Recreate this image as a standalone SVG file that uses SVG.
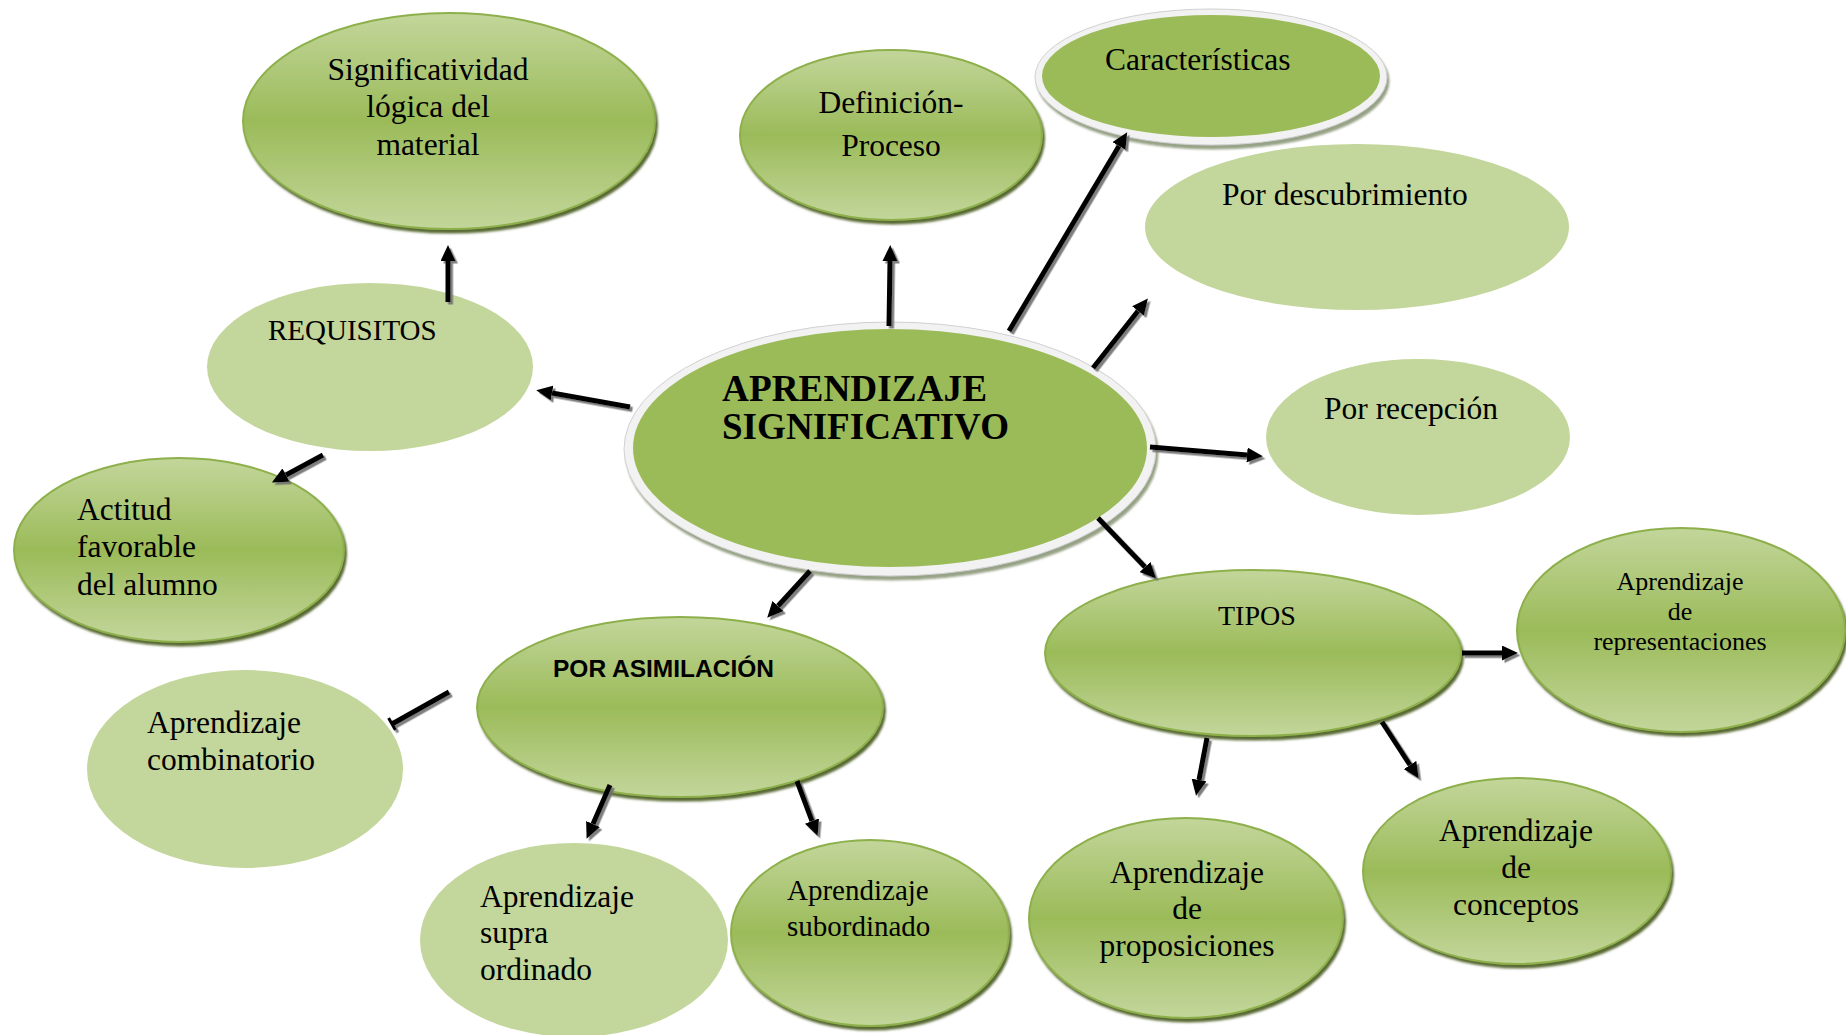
<svg xmlns="http://www.w3.org/2000/svg" width="1846" height="1035" viewBox="0 0 1846 1035">
<defs>
  <linearGradient id="g" x1="0" y1="0" x2="0" y2="1">
    <stop offset="0" stop-color="#c3d69b"/>
    <stop offset="0.5" stop-color="#9bbb59"/>
    <stop offset="1" stop-color="#c3d69b"/>
  </linearGradient>
  <filter id="sh" x="-10%" y="-10%" width="125%" height="130%">
    <feDropShadow dx="2" dy="3.5" stdDeviation="1.2" flood-color="#4f6228" flood-opacity="0.95"/>
  </filter>
  <filter id="rsh" x="-10%" y="-10%" width="125%" height="130%">
    <feDropShadow dx="2" dy="4" stdDeviation="1" flood-color="#8a9878" flood-opacity="0.9"/>
  </filter>
  <filter id="ash" x="-20%" y="-20%" width="150%" height="150%">
    <feDropShadow dx="2.5" dy="2.5" stdDeviation="0.6" flood-color="#6f6f6f" flood-opacity="0.9"/>
  </filter>
  <marker id="ah" markerUnits="userSpaceOnUse" markerWidth="16" markerHeight="15" viewBox="0 0 16 15" refX="0" refY="7.5" orient="auto">
    <path d="M0,0 L16,7.5 L0,15 z" fill="#000"/>
  </marker>
  <style>
    .flat{fill:#c3d69b}
    .grad{fill:url(#g);stroke:#8db04c;stroke-width:2;filter:url(#sh)}
    .ring{fill:#f2f2f2;stroke:#d0d0d0;stroke-width:1;filter:url(#rsh)}
    .solid{fill:#9bbb59}
    text{font-family:"Liberation Serif","Times New Roman",serif;fill:#000}
    .t{font-size:31.5px}
    .c{text-anchor:middle}
    .sans{font-family:"Liberation Sans",Arial,sans-serif;font-weight:bold;font-size:23px}
    .con line{stroke:#000;stroke-width:5;marker-end:url(#ah)}
  </style>
</defs>
<rect width="1846" height="1035" fill="#fff"/>

<g id="n-significatividad">
  <ellipse class="grad" cx="449" cy="121" rx="206" ry="108"/>
  <text class="t c" x="428" y="80">Significatividad</text>
  <text class="t c" x="428" y="117">lógica del</text>
  <text class="t c" x="428" y="155">material</text>
</g>
<g id="n-definicion">
  <ellipse class="grad" cx="891" cy="135" rx="151" ry="85"/>
  <text class="t c" x="891" y="113">Definición-</text>
  <text class="t c" x="891" y="156">Proceso</text>
</g>
<g id="n-caracteristicas">
  <ellipse class="ring" cx="1211" cy="77" rx="176" ry="68"/>
  <ellipse class="solid" cx="1211" cy="76" rx="169" ry="61"/>
  <text class="t" x="1105" y="70">Características</text>
</g>
<g id="n-descubrimiento">
  <ellipse class="flat" cx="1357" cy="227" rx="212" ry="83"/>
  <text class="t" x="1222" y="205">Por descubrimiento</text>
</g>
<g id="n-recepcion">
  <ellipse class="flat" cx="1418" cy="437" rx="152" ry="78"/>
  <text class="t" x="1324" y="419">Por recepción</text>
</g>
<g id="n-central">
  <ellipse class="ring" cx="890" cy="449" rx="266" ry="127"/>
  <ellipse class="solid" cx="890" cy="448" rx="257" ry="119"/>
  <text x="722" y="401" font-size="37" font-weight="bold" textLength="265" lengthAdjust="spacingAndGlyphs">APRENDIZAJE</text>
  <text x="722" y="439" font-size="37" font-weight="bold" textLength="287" lengthAdjust="spacingAndGlyphs">SIGNIFICATIVO</text>
</g>
<g id="n-requisitos">
  <ellipse class="flat" cx="370" cy="367" rx="163" ry="84"/>
  <text x="268" y="340" font-size="29">REQUISITOS</text>
</g>
<g id="n-actitud">
  <ellipse class="grad" cx="179" cy="550" rx="165" ry="92"/>
  <text class="t" x="77" y="520">Actitud</text>
  <text class="t" x="77" y="557">favorable</text>
  <text class="t" x="77" y="595">del alumno</text>
</g>
<g id="n-combinatorio">
  <ellipse class="flat" cx="245" cy="769" rx="158" ry="99"/>
  <text class="t" x="147" y="733">Aprendizaje</text>
  <text class="t" x="147" y="770">combinatorio</text>
</g>
<g id="n-asimilacion">
  <ellipse class="grad" cx="680" cy="707" rx="203" ry="90"/>
  <text class="sans" x="553" y="677" textLength="221" lengthAdjust="spacingAndGlyphs">POR ASIMILACIÓN</text>
</g>
<g id="n-tipos">
  <ellipse class="grad" cx="1253" cy="653" rx="208" ry="83"/>
  <text x="1218" y="625" font-size="28">TIPOS</text>
</g>
<g id="n-representaciones">
  <ellipse class="grad" cx="1681" cy="630" rx="164" ry="102"/>
  <text class="c" x="1680" y="590" font-size="26">Aprendizaje</text>
  <text class="c" x="1680" y="620" font-size="26">de</text>
  <text class="c" x="1680" y="650" font-size="26">representaciones</text>
</g>
<g id="n-supra">
  <ellipse class="flat" cx="574" cy="940" rx="154" ry="97"/>
  <text class="t" x="480" y="907">Aprendizaje</text>
  <text class="t" x="480" y="943">supra</text>
  <text class="t" x="480" y="980">ordinado</text>
</g>
<g id="n-subordinado">
  <ellipse class="grad" cx="870" cy="933" rx="139" ry="93"/>
  <text x="787" y="900" font-size="29">Aprendizaje</text>
  <text x="787" y="936" font-size="29">subordinado</text>
</g>
<g id="n-proposiciones">
  <ellipse class="grad" cx="1186" cy="918" rx="157" ry="100"/>
  <text class="t c" x="1187" y="883">Aprendizaje</text>
  <text class="t c" x="1187" y="919">de</text>
  <text class="t c" x="1187" y="956">proposiciones</text>
</g>
<g id="n-conceptos">
  <ellipse class="grad" cx="1517" cy="871" rx="154" ry="93"/>
  <text class="t c" x="1516" y="841">Aprendizaje</text>
  <text class="t c" x="1516" y="878">de</text>
  <text class="t c" x="1516" y="915">conceptos</text>
</g>

<g id="connectors" class="con" filter="url(#ash)">
  <line x1="630" y1="407" x2="552" y2="393"/>
  <line x1="448" y1="302" x2="448" y2="261"/>
  <line x1="323" y1="455" x2="286" y2="475"/>
  <line x1="889" y1="326" x2="890" y2="261"/>
  <line x1="1009" y1="331" x2="1119" y2="146"/>
  <line x1="1093" y1="368" x2="1138" y2="311"/>
  <line x1="1150" y1="447" x2="1247" y2="455"/>
  <line x1="1098" y1="518" x2="1145" y2="567"/>
  <line x1="810" y1="571" x2="778" y2="606"/>
  <line x1="610" y1="785" x2="593" y2="824"/>
  <line x1="797" y1="781" x2="812" y2="821"/>
  <line x1="1462" y1="653" x2="1502" y2="653"/>
  <line x1="1207" y1="738" x2="1199" y2="780"/>
  <line x1="1382" y1="722" x2="1410" y2="765"/>
  <path d="M449,692 L392,724" stroke="#000" stroke-width="5" fill="none"/>
  <path d="M388.6,717.9 L395.4,730.1" stroke="#000" stroke-width="3" fill="none"/>
</g>
</svg>
